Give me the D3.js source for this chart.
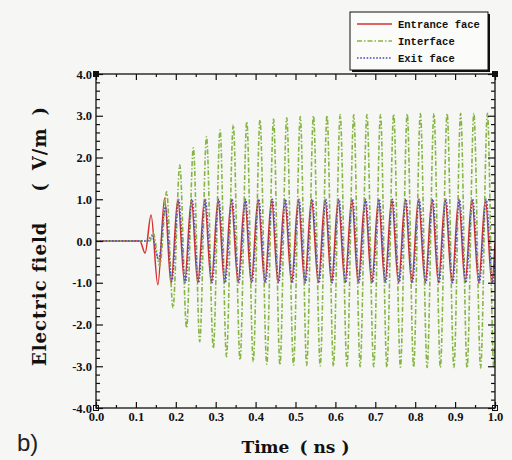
<!DOCTYPE html>
<html>
<head>
<meta charset="utf-8">
<script src="https://cdn.jsdelivr.net/npm/d3@7"></script>
<style>
  html, body { margin: 0; padding: 0; background: #f6f6f4; }
  svg { display: block; }
</style>
</head>
<body>
<svg id="chart" width="512" height="460"></svg>
<script>
// Field at the three monitor planes, given as successive extrema (time in ns, field in V/m)
const entranceTime = [0, 0.110, 0.123, 0.138, 0.155, 0.172, 0.188, 0.205, 0.222, 0.239, 0.255, 0.272, 0.289, 0.306, 0.322, 0.339, 0.356, 0.373, 0.389, 0.406, 0.423, 0.440, 0.456, 0.473, 0.490, 0.507, 0.523, 0.540, 0.557, 0.574, 0.590, 0.607, 0.624, 0.641, 0.657, 0.674, 0.691, 0.708, 0.724, 0.741, 0.758, 0.775, 0.791, 0.808, 0.825, 0.842, 0.858, 0.875, 0.892, 0.909, 0.925, 0.942, 0.959, 0.976, 0.992, 1.0];
const entranceField = [0, 0, -0.29, 0.62, -1.05, 1.03, -1.02, 1.0, -1.0, 1.0, -1.0, 1.0, -1.0, 1.0, -1.0, 1.0, -1.0, 1.0, -1.0, 1.0, -1.0, 1.0, -1.0, 1.0, -1.0, 1.0, -1.0, 1.0, -1.0, 1.0, -1.0, 1.0, -1.0, 1.0, -1.0, 1.0, -1.0, 1.0, -1.0, 1.0, -1.0, 1.0, -1.0, 1.0, -1.0, 1.0, -1.0, 1.0, -1.0, 1.0, -1.0, 1.0, -1.0, 1.0, -1.0, -0.06];

const interfaceTime = [0, 0.135, 0.143, 0.160, 0.177, 0.193, 0.210, 0.227, 0.244, 0.260, 0.277, 0.294, 0.311, 0.327, 0.344, 0.361, 0.378, 0.394, 0.411, 0.428, 0.445, 0.461, 0.478, 0.495, 0.512, 0.528, 0.545, 0.562, 0.579, 0.595, 0.612, 0.629, 0.646, 0.662, 0.679, 0.696, 0.713, 0.729, 0.746, 0.763, 0.780, 0.796, 0.813, 0.830, 0.847, 0.863, 0.880, 0.897, 0.914, 0.930, 0.947, 0.964, 0.981, 0.997, 1.0];
const interfaceField = [0, 0, 0.20, -0.60, 1.18, -1.60, 1.82, -2.08, 2.23, -2.41, 2.50, -2.57, 2.66, -2.77, 2.78, -2.85, 2.86, -2.89, 2.90, -2.95, 2.92, -2.97, 2.95, -2.97, 2.98, -2.98, 3.00, -2.99, 3.01, -3.00, 3.02, -3.00, 3.02, -3.01, 3.03, -3.01, 3.03, -3.02, 3.04, -3.02, 3.04, -3.02, 3.05, -3.03, 3.05, -3.03, 3.05, -3.03, 3.06, -3.04, 3.06, -3.04, 3.06, -3.04, -2.52];

const exitTime = [0, 0.128, 0.140, 0.157, 0.174, 0.190, 0.207, 0.224, 0.241, 0.257, 0.274, 0.291, 0.308, 0.324, 0.341, 0.358, 0.375, 0.391, 0.408, 0.425, 0.442, 0.458, 0.475, 0.492, 0.509, 0.525, 0.542, 0.559, 0.576, 0.592, 0.609, 0.626, 0.643, 0.659, 0.676, 0.693, 0.710, 0.726, 0.743, 0.760, 0.777, 0.793, 0.810, 0.827, 0.844, 0.860, 0.877, 0.894, 0.911, 0.927, 0.944, 0.961, 0.978, 0.994, 1.0];
const exitField = [0, 0, 0.12, -0.45, 0.82, -0.97, 1.0, -1.0, 1.0, -1.0, 1.0, -1.0, 1.0, -1.0, 1.0, -1.0, 1.0, -1.0, 1.0, -1.0, 1.0, -1.0, 1.0, -1.0, 1.0, -1.0, 1.0, -1.0, 1.0, -1.0, 1.0, -1.0, 1.0, -1.0, 1.0, -1.0, 1.0, -1.0, 1.0, -1.0, 1.0, -1.0, 1.0, -1.0, 1.0, -1.0, 1.0, -1.0, 1.0, -1.0, 1.0, -1.0, 1.0, -1.0, -0.41];

const seriesNames = ["Entrance face", "Interface", "Exit face"];
const xTicks = [0.0, 0.1, 0.2, 0.3, 0.4, 0.5, 0.6, 0.7, 0.8, 0.9, 1.0];
const xMinorTicks = [0.05, 0.15, 0.25, 0.35, 0.45, 0.55, 0.65, 0.75, 0.85, 0.95];
const yTicks = [-4.0, -3.0, -2.0, -1.0, 0.0, 1.0, 2.0, 3.0, 4.0];
const yMinorTicks = [-3.8, -3.6, -3.4, -3.2, -2.8, -2.6, -2.4, -2.2, -1.8, -1.6, -1.4, -1.2, -0.8, -0.6, -0.4, -0.2, 0.2, 0.4, 0.6, 0.8, 1.2, 1.4, 1.6, 1.8, 2.2, 2.4, 2.6, 2.8, 3.2, 3.4, 3.6, 3.8];

const svg = d3.select("#chart");
const plot = { left: 96, right: 495, top: 74, bottom: 408 };
const x = d3.scaleLinear().domain([0, 1]).range([plot.left, plot.right]);
const y = d3.scaleLinear().domain([-4, 4]).range([plot.bottom, plot.top]);

const serif = "'Liberation Serif', 'Times New Roman', serif";
const titleFont = "'DejaVu Serif', serif";

svg.append("defs").append("clipPath").attr("id", "plotClip")
  .append("rect")
  .attr("x", plot.left).attr("y", plot.top)
  .attr("width", plot.right - plot.left).attr("height", plot.bottom - plot.top);

// traces
const line = d3.line().x(d => x(d[0])).y(d => y(d[1])).curve(d3.curveMonotoneX);
const traces = [
  { t: entranceTime, v: entranceField, color: "#d43030", dash: null, width: 1.5 },
  { t: interfaceTime, v: interfaceField, color: "#86b545", dash: "5,2,1.5,2", width: 1.6 },
  { t: exitTime, v: exitField, color: "#4a4cb8", dash: "1.6,1.6", width: 1.4 }
];
const traceG = svg.append("g").attr("clip-path", "url(#plotClip)");
traces.forEach(s => {
  traceG.append("path")
    .datum(d3.zip(s.t, s.v))
    .attr("fill", "none")
    .attr("stroke", s.color)
    .attr("stroke-width", s.width)
    .attr("stroke-dasharray", s.dash)
    .attr("d", line);
});

// axes with inward ticks on all four sides
const fmt = d => d.toFixed(1);
function styleAxis(g) {
  g.select(".domain").remove();
  g.selectAll(".tick line").attr("stroke", "#111").attr("stroke-width", 1.2);
  g.selectAll("text").attr("fill", "#111").attr("font-family", serif)
    .attr("font-weight", "bold").attr("font-size", 12.5);
}
svg.append("g").attr("transform", `translate(0,${plot.bottom})`)
  .call(d3.axisBottom(x).tickValues(xTicks).tickSize(-6).tickPadding(4).tickFormat(fmt)).call(styleAxis);
svg.append("g").attr("transform", `translate(0,${plot.bottom})`)
  .call(d3.axisBottom(x).tickValues(xMinorTicks).tickSize(-3).tickFormat("")).call(styleAxis);
svg.append("g").attr("transform", `translate(0,${plot.top})`)
  .call(d3.axisTop(x).tickValues(xTicks).tickSize(-6).tickFormat("")).call(styleAxis);
svg.append("g").attr("transform", `translate(0,${plot.top})`)
  .call(d3.axisTop(x).tickValues(xMinorTicks).tickSize(-3).tickFormat("")).call(styleAxis);
svg.append("g").attr("transform", `translate(${plot.left},0)`)
  .call(d3.axisLeft(y).tickValues(yTicks).tickSize(-7).tickPadding(4).tickFormat(fmt)).call(styleAxis);
svg.append("g").attr("transform", `translate(${plot.left},0)`)
  .call(d3.axisLeft(y).tickValues(yMinorTicks).tickSize(-4).tickFormat("")).call(styleAxis);
svg.append("g").attr("transform", `translate(${plot.right},0)`)
  .call(d3.axisRight(y).tickValues(yTicks).tickSize(-7).tickFormat("")).call(styleAxis);
svg.append("g").attr("transform", `translate(${plot.right},0)`)
  .call(d3.axisRight(y).tickValues(yMinorTicks).tickSize(-4).tickFormat("")).call(styleAxis);

// frame
svg.append("rect")
  .attr("x", plot.left).attr("y", plot.top)
  .attr("width", plot.right - plot.left).attr("height", plot.bottom - plot.top)
  .attr("fill", "none").attr("stroke", "#111").attr("stroke-width", 1.3);

// corner markers
[[plot.left, plot.top, true], [plot.right, plot.top, true], [plot.left, plot.bottom, false], [plot.right, plot.bottom, false]]
  .forEach(([cx, cy, filled]) => {
    svg.append("rect").attr("x", cx - 2.5).attr("y", cy - 2.5).attr("width", 5).attr("height", 5)
      .attr("fill", filled ? "#111" : "none").attr("stroke", "#111").attr("stroke-width", 1);
  });

// axis titles
const xTitle = svg.append("text")
  .attr("x", (plot.left + plot.right) / 2).attr("y", 453)
  .attr("text-anchor", "middle").attr("font-family", titleFont)
  .attr("font-weight", "bold").attr("font-size", 17).attr("fill", "#111");
xTitle.append("tspan").text("Time");
xTitle.append("tspan").attr("dx", 10).text("(");
xTitle.append("tspan").attr("dx", 6).text("ns");
xTitle.append("tspan").attr("dx", 6).text(")");

const yTitle = svg.append("text")
  .attr("transform", `translate(46,${(plot.top + plot.bottom) / 2 - 5}) rotate(-90)`)
  .attr("text-anchor", "middle").attr("font-family", titleFont)
  .attr("font-weight", "bold").attr("font-size", 18).attr("letter-spacing", 1).attr("fill", "#111");
yTitle.append("tspan").text("Electric field");
yTitle.append("tspan").attr("dx", 30).text("(");
yTitle.append("tspan").attr("dx", 12).text("V/m");
yTitle.append("tspan").attr("dx", 12).text(")");

// panel tag
svg.append("text").attr("x", 17).attr("y", 451)
  .attr("font-family", "'Liberation Sans', Arial, sans-serif").attr("font-size", 24)
  .attr("fill", "#222").text("b)");

// legend
const lg = svg.append("g");
lg.append("rect").attr("x", 352).attr("y", 14).attr("width", 138).attr("height", 58).attr("fill", "#111");
lg.append("rect").attr("x", 350).attr("y", 12).attr("width", 138).attr("height", 58)
  .attr("fill", "#fbfbfa").attr("stroke", "#111").attr("stroke-width", 1);
const legendRows = [24, 41, 58];
traces.forEach((s, i) => {
  lg.append("line").attr("x1", 357).attr("x2", 392)
    .attr("y1", legendRows[i]).attr("y2", legendRows[i])
    .attr("stroke", s.color).attr("stroke-width", 1.5).attr("stroke-dasharray", s.dash);
  lg.append("text").attr("x", 398).attr("y", legendRows[i]).attr("dy", "0.35em")
    .attr("font-family", "'Liberation Mono', 'Courier New', monospace").attr("font-weight", "bold")
    .attr("font-size", 10.5).attr("fill", "#111").text(seriesNames[i]);
});
</script>
</body>
</html>
